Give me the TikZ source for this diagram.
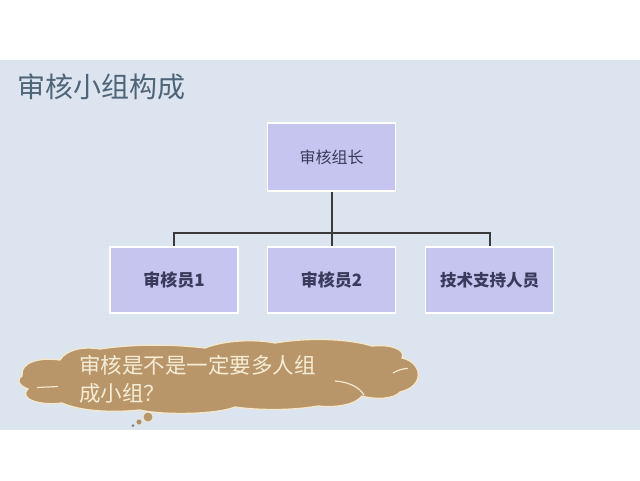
\documentclass[tikz,border=0pt]{standalone}
\usepackage{fontspec}
\newfontfamily\cjk{Noto Sans CJK SC}
\definecolor{slidebg}{HTML}{DBE4EF}
\definecolor{titlecol}{HTML}{4E6477}
\definecolor{boxfill}{HTML}{C6C5EF}
\definecolor{boxtext}{HTML}{3A3A5C}
\definecolor{conncol}{HTML}{3A3A3A}
\definecolor{cloudfill}{HTML}{B8966A}
\definecolor{cloudedge}{HTML}{F4E8CC}
\definecolor{cloudtext}{HTML}{F6EDD4}
\tikzset{
  orgbox/.style={draw=white, line width=1.6pt, fill=boxfill, text=boxtext,
    minimum width=128pt, minimum height=66pt, inner sep=0pt},
  conn/.style={draw=conncol, line width=2pt},
  cloudshape/.style={fill=cloudfill, draw=cloudedge, line width=1.3pt},
  cloudline/.style={draw=cloudedge, line width=1.2pt},
}
\begin{document}
\begin{tikzpicture}[x=1pt,y=-1pt]
\useasboundingbox (0,0) rectangle (640,480);
\fill[white] (0,0) rectangle (640,480);
\fill[slidebg] (0,60) rectangle (640,430);
% title
\node[anchor=west, text=titlecol, font=\cjk\fontsize{28}{34}\selectfont, inner sep=0pt] (title) at (17,87) {审核小组构成};
% boxes
\node[orgbox, minimum height=68pt, font=\cjk\fontsize{16}{20}\selectfont] (lead) at (331.5,157) {审核组长};
\node[orgbox, font=\cjk\bfseries\fontsize{17}{20}\selectfont] (m1) at (174,280) {审核员1};
\node[orgbox, font=\cjk\bfseries\fontsize{17}{20}\selectfont] (m2) at (331.5,280) {审核员2};
\node[orgbox, font=\cjk\bfseries\fontsize{16.5}{20}\selectfont] (m3) at (489.5,280) {技术支持人员};
% connectors
\coordinate (j) at (331.5,233);
\draw[conn] (lead.south) -- (m2.north);
\draw[conn] (m1.north) -- (m1.north |- j) -- (m3.north |- j) -- (m3.north);
% cloud
\path[cloudshape] (22,376)
 .. controls (20,362) and (40,357) .. (60,360)
 .. controls (66,350) and (82,346) .. (100,349)
 .. controls (140,343) and (180,345) .. (205,348)
 .. controls (225,340) and (255,339) .. (275,343)
 .. controls (310,337) and (350,339) .. (372,346)
 .. controls (392,344) and (406,350) .. (402,358)
 .. controls (422,362) and (426,386) .. (400,392)
 .. controls (395,399) and (375,400) .. (362,396)
 .. controls (355,405) and (335,408) .. (318,406)
 .. controls (290,411) and (255,410) .. (235,407)
 .. controls (215,415) and (160,415) .. (140,410)
 .. controls (110,413) and (80,411) .. (62,403)
 .. controls (40,406) and (18,399) .. (28,389)
 .. controls (17,385) and (17,378) .. (22,376) -- cycle;
\draw[cloudline] (37,387.5) -- (58,386.5);
\draw[cloudline] (335,381) .. controls (350,382) and (360,388) .. (364,395);
\draw[cloudline] (393,373) .. controls (398,370) and (403,368.5) .. (408,368.5);
\node[circle, fill=cloudfill, draw=cloudedge, line width=0.8pt, minimum size=10pt, inner sep=0pt] (b1) at (148,417) {};
\node[circle, fill=cloudfill!70!gray, draw=cloudedge, line width=0.6pt, minimum size=6pt, inner sep=0pt] (b2) at (139,422) {};
\node[circle, fill=gray, minimum size=3pt, inner sep=0pt] (b3) at (133,425.5) {};
\node[anchor=west, align=left, text=cloudtext, inner sep=0pt,
  font=\cjk\fontsize{21.5}{28}\selectfont] (q) at (79,379) {审核是不是一定要多人组\\成小组？};
\end{tikzpicture}
\end{document}
